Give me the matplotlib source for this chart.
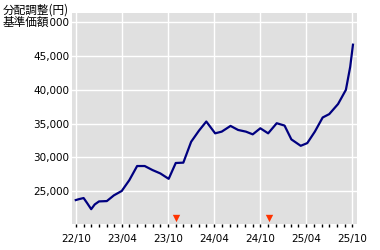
import numpy as np
import pandas as pd
import matplotlib
matplotlib.use("Agg")
import matplotlib.pyplot as plt
import matplotlib.dates as mdates
import matplotlib.transforms as mtransforms
from matplotlib.ticker import FuncFormatter

# NAV series (adjusted for distributions)
dates = ["2022-10-01", "2022-10-15", "2022-11-01", "2022-11-15", "2022-12-01",
         "2022-12-15", "2023-01-01", "2023-02-01", "2023-03-01", "2023-04-01",
         "2023-05-01", "2023-06-01", "2023-07-01", "2023-08-01", "2023-09-01",
         "2023-10-04", "2023-11-01", "2023-12-01", "2024-01-01", "2024-02-01",
         "2024-03-01", "2024-04-05", "2024-05-01", "2024-06-05", "2024-07-05",
         "2024-08-05", "2024-09-01", "2024-10-01", "2024-11-01", "2024-12-05",
         "2025-01-05", "2025-02-01", "2025-03-10", "2025-04-05", "2025-05-05",
         "2025-06-05", "2025-07-01", "2025-08-05", "2025-09-05", "2025-09-22",
         "2025-10-03"]
nav = [23650, 23800, 23950, 23200, 22300,
       23000, 23450, 23500, 24350, 25000,
       26600, 28700, 28700, 28100, 27600,
       26800, 29150, 29200, 32300, 33950,
       35300, 33550, 33800, 34650, 34050,
       33800, 33400, 34300, 33550, 35050,
       34700, 32650, 31700, 32100, 33800,
       35900, 36400, 37900, 40000, 43400,
       46700]

# distribution markers
div_dates = ["2023-11-03", "2024-11-06"]

yticks = [25000, 30000, 35000, 40000, 45000, 50000]

x = pd.to_datetime(dates)
xd = pd.to_datetime(div_dates)

fig = plt.figure(figsize=(3.8, 2.5), dpi=100)
ax = fig.add_axes([72/380, 26/250, 285/380, 211/250])
ax.set_facecolor("#e0e0e0")

ax.plot(x, nav, color="#000080", lw=1.6, zorder=3)

trans = mtransforms.blended_transform_factory(ax.transData, ax.transAxes)
ax.scatter(xd, [0.03] * len(xd), marker="v", s=28, color="#ff3300",
           transform=trans, zorder=4, linewidths=0)

ax.set_xlim(pd.Timestamp("2022-09-16"), pd.Timestamp("2025-10-19"))
ax.set_ylim(20100, 51400)

ax.xaxis.set_major_locator(mdates.MonthLocator(bymonth=[4, 10]))
ax.xaxis.set_minor_locator(mdates.MonthLocator())
ax.xaxis.set_major_formatter(mdates.DateFormatter("%y/%m"))
ax.set_yticks(yticks)
ax.yaxis.set_major_formatter(FuncFormatter(lambda v, p: f"{int(v):,}"))

ax.grid(True, color="white", lw=1.0)
ax.set_axisbelow(True)
for s in ax.spines.values():
    s.set_visible(False)

ax.tick_params(axis="y", length=0, pad=2, labelsize=7.5)
ax.tick_params(axis="x", which="both", length=2, width=1, color="black",
               pad=5, labelsize=7.5)

# title sits on top of the 50,000 label, as in the original
fig.text(3/380, 1 - 10/250, "分配調整(円)", fontsize=8.4,
         family=["Noto Sans CJK JP", "DejaVu Sans"], va="center", ha="left")
fig.text(3/380, 1 - 22/250, "基準価額", fontsize=8.4,
         family=["Noto Sans CJK JP", "DejaVu Sans"], va="center", ha="left",
         bbox=dict(facecolor="white", edgecolor="none", pad=0.3), zorder=10)

fig.savefig("out.png", dpi=100)
